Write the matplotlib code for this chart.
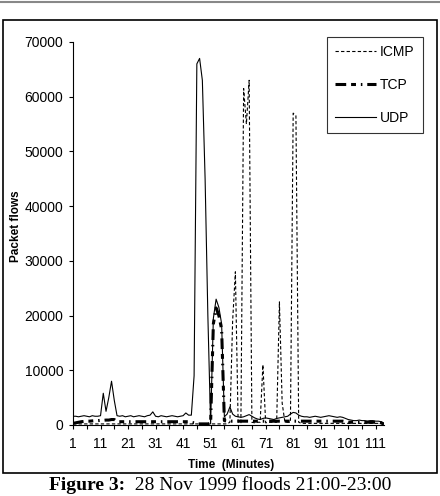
import numpy as np
import matplotlib.pyplot as plt
from matplotlib.patches import Rectangle
from matplotlib.lines import Line2D

# minutes 1..114
minutes = np.arange(1, 115)

udp = [1600, 1600, 1500, 1600, 1700, 1600, 1500, 1700, 1600, 1600,
       1700, 5800, 2500, 5000, 8000, 4500, 1700, 1600, 1700, 1500,
       1600, 1700, 1500, 1600, 1700, 1600, 1500, 1700, 1800, 2400,
       1600, 1500, 1700, 1600, 1500, 1600, 1700, 1600, 1500, 1600,
       1700, 2200, 1800, 1800, 9000, 66000, 67000, 63000, 45000, 20000,
       200, 19500, 23000, 21500, 18500, 1500, 2000, 3300, 2000, 1600,
       1500, 1400, 1500, 1700, 1900, 1600, 1300, 1100, 1000, 1200,
       1300, 1200, 1100, 1000, 1200, 1300, 1400, 1500, 1600, 2000,
       2300, 2200, 1800, 1600, 1500, 1500, 1400, 1500, 1600, 1500,
       1400, 1500, 1600, 1700, 1600, 1500, 1400, 1500, 1400, 1200,
       1000, 900, 800, 800, 900, 800, 800, 700, 800, 800,
       700, 700, 600, 300]

tcp = [300, 400, 500, 600, 650, 700, 700, 750, 800, 800,
       850, 850, 900, 900, 1000, 1000, 600, 600, 600, 600,
       600, 600, 600, 600, 600, 600, 600, 600, 600, 600,
       600, 600, 600, 600, 600, 600, 600, 600, 600, 600,
       600, 600, 600, 500, 400, 200, 200, 200, 200, 200,
       300, 18500, 21400, 20000, 17500, 800, 700, 700, 700, 700,
       700, 700, 700, 700, 700, 700, 700, 700, 700, 700,
       700, 700, 700, 700, 700, 700, 700, 700, 700, 700,
       700, 700, 700, 700, 700, 700, 700, 700, 700, 700,
       700, 700, 700, 700, 700, 700, 700, 700, 700, 600,
       500, 500, 500, 500, 500, 500, 500, 500, 500, 500,
       500, 500, 400, 100]

icmp = [200] * 57 + [500, 19000, 28000, 500, 400, 61500, 55000, 63000, 500,
                     400, 500, 500, 11000, 400, 500, 500, 500, 500, 22500,
                     4000, 500, 500, 500, 57000, 56500, 500] + [300] * 31

xtick_pos = list(range(1, 112, 5))
xtick_lab = [str(m) if (m - 1) % 10 == 0 else '' for m in xtick_pos]
ytick_pos = list(range(0, 70001, 10000))

plt.rcParams['font.family'] = ['Liberation Sans', 'DejaVu Sans']

fig = plt.figure(figsize=(4.4, 4.96), dpi=100)
W, H = 440, 496
ax = fig.add_axes([73 / W, 1 - 425 / H, (384 - 73) / W, (425 - 42) / H])

ax.plot(minutes, icmp, color='black', lw=0.8, ls=(0, (3, 2)), label='ICMP')
ax.plot(minutes, tcp, color='black', lw=2.2, ls=(0, (3.5, 1.6, 1.6, 1.6, 0.5, 1.6)), label='TCP')
ax.plot(minutes, udp, color='black', lw=0.8, label='UDP')

ax.set_xlim(1, 114)
ax.set_ylim(0, 70000)
ax.set_xticks(xtick_pos)
ax.set_xticklabels(xtick_lab)
ax.set_yticks(ytick_pos)
ax.tick_params(axis='both', direction='out', length=3, width=0.8, labelsize=10)
ax.tick_params(axis='y', pad=4)
ax.tick_params(axis='x', pad=6)
for s in ['top', 'right']:
    ax.spines[s].set_visible(False)
ax.spines['left'].set_linewidth(0.8)
ax.spines['bottom'].set_linewidth(0.8)

ax.set_ylabel('Packet flows', fontsize=8.5, fontweight='bold')
ax.yaxis.set_label_coords(-0.165, 0.52)
ax.set_xlabel('Time  (Minutes)', fontsize=8.5, fontweight='bold')
ax.xaxis.set_label_coords(0.51, -0.088)

leg = fig.legend(loc='upper left', bbox_to_anchor=(327 / W, 1 - 37 / H),
                 frameon=True, fancybox=False, edgecolor='black',
                 handlelength=2.9, handletextpad=0.3, labelspacing=1.35,
                 borderpad=0.6, borderaxespad=0,
                 prop={'family': 'Liberation Sans', 'size': 10})
leg.get_frame().set_linewidth(0.8)

# outer frame and top rule
fig.add_artist(Rectangle((3 / W, 1 - 473 / H), (437 - 3) / W, (473 - 20) / H,
                         transform=fig.transFigure, fill=False, ec='black', lw=1.2))
fig.add_artist(Line2D([0, 1], [1 - 2 / H, 1 - 2 / H], transform=fig.transFigure,
                      color='#888888', lw=1.5))

# caption: bold "Figure 3:" followed by regular text
t1 = fig.text(49 / W, 1 - 490 / H, 'Figure 3:', fontsize=14, fontweight='bold',
              family='Liberation Serif', va='baseline', ha='left')
fig.canvas.draw()
bb = t1.get_window_extent(fig.canvas.get_renderer())
fig.text(bb.x1 / W, 1 - 490 / H, '  28 Nov 1999 floods 21:00-23:00', fontsize=14,
         family='Liberation Serif', va='baseline', ha='left')

fig.savefig('out.png', dpi=100)
